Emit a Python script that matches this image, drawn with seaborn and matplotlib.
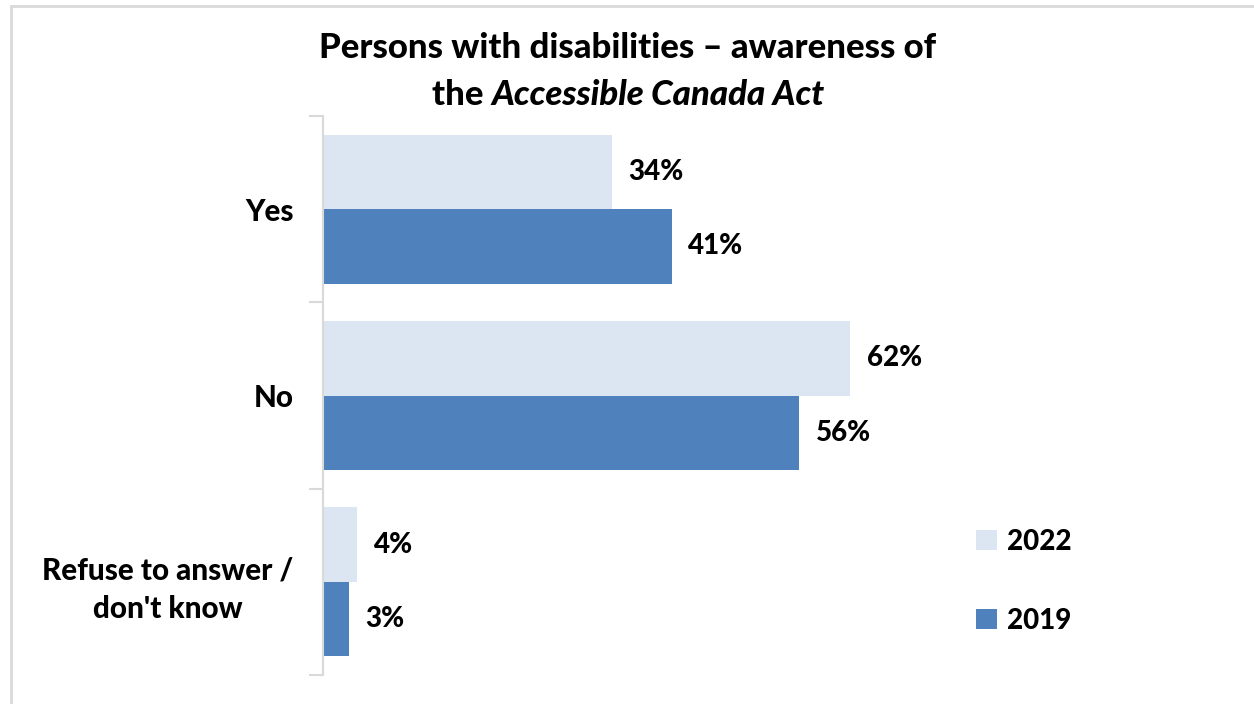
import matplotlib
matplotlib.use("Agg")
import matplotlib.pyplot as plt
from matplotlib.patches import Rectangle, Patch
import seaborn as sns
import pandas as pd

# Survey responses (percent) by year
categories = ["Yes", "No", "Refuse to answer /\ndon't know"]
years = ["2022", "2019"]
values_2022 = [34, 62, 4]
values_2019 = [41, 56, 3]
colors = {"2022": "#DCE6F2", "2019": "#4F81BD"}

df = pd.DataFrame({
    "response": categories * 2,
    "year": ["2022"] * 3 + ["2019"] * 3,
    "pct": values_2022 + values_2019,
})

sns.set_theme(style="white")
plt.rcParams["font.family"] = ["Lato", "DejaVu Sans"]
plt.rcParams["text.color"] = "black"
plt.rcParams["ytick.color"] = "black"
WEIGHT = 900

W, H = 1254, 704
fig = plt.figure(figsize=(W / 100, H / 100), dpi=100)
ax = fig.add_axes([323 / W, 1 - 675 / H, 850 / W, (675 - 116) / H])

sns.barplot(data=df, y="response", x="pct", hue="year", hue_order=years,
            order=categories, palette=colors, orient="h", width=0.8,
            saturation=1, ax=ax, legend=False, edgecolor="none")

for cont in ax.containers:
    ax.bar_label(cont, labels=[f"{v:.0f}%" for v in cont.datavalues],
                 padding=12, fontsize=20, fontweight=WEIGHT, color="black")

ax.set_xlim(0, 100)
ax.set_ylim(2.5, -0.5)
ax.set_xlabel("")
ax.set_ylabel("")
ax.set_xticks([])
for s in ["top", "right", "bottom"]:
    ax.spines[s].set_visible(False)
ax.spines["left"].set_color("#D9D9D9")
ax.spines["left"].set_linewidth(1.5)

ax.set_yticks(range(len(categories)))
ax.set_yticklabels(categories, fontsize=21.3, fontweight=WEIGHT,
                   multialignment="center", color="black", linespacing=1.45)
ax.tick_params(axis="y", which="major", left=False, length=0, pad=21)
ax.set_yticks([-0.5, 0.5, 1.5, 2.5], minor=True)
ax.tick_params(axis="y", which="minor", left=True, length=10, width=1.5,
               color="#D9D9D9")

handles = [Patch(facecolor=colors[y], edgecolor="none", label=y) for y in years]
fig.legend(handles=handles, loc="upper left",
           bbox_to_anchor=(951 / W, 1 - 504 / H), frameon=False,
           handlelength=0.75, handleheight=0.75, handletextpad=0.35,
           labelspacing=1.9, prop={"size": 20, "weight": WEIGHT})

# Title, with the act's name in italics
TS = 25
fig.text(628 / W, 1 - 48 / H, "Persons with disabilities \u2013 awareness of",
         ha="center", va="center", fontsize=TS, fontweight=WEIGHT,
         color="black")
fig.canvas.draw()
r = fig.canvas.get_renderer()
t1 = fig.text(0, 1 - 95 / H, "the ", ha="left", va="center",
              fontsize=TS, fontweight=WEIGHT, color="black")
t2 = fig.text(0, 1 - 95 / H, "Accessible Canada Act", ha="left", va="center",
              fontsize=TS, fontweight=WEIGHT, fontstyle="italic", color="black")
w1 = t1.get_window_extent(r).width
w2 = t2.get_window_extent(r).width
x0 = 628 - (w1 + w2) / 2
t1.set_x(x0 / W)
t2.set_x((x0 + w1) / W)

# Light frame around the chart area
fig.patches.append(Rectangle((11 / W, -0.05), 1.2, 1 - 6 / H + 0.05,
                             transform=fig.transFigure, fill=False,
                             edgecolor="#D9D9D9", linewidth=2))

fig.savefig("out.png", dpi=100)
